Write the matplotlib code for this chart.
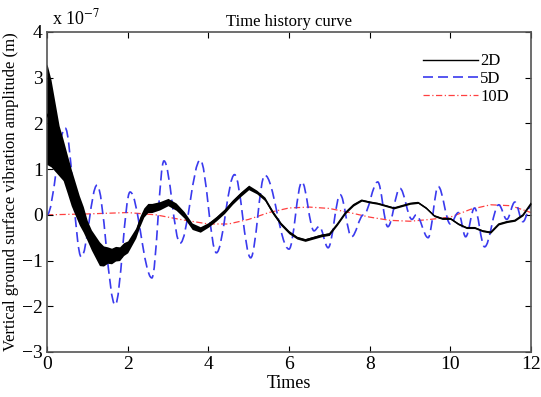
import numpy as np
import matplotlib
matplotlib.use('Agg')
import matplotlib.pyplot as plt
from matplotlib.path import Path
from matplotlib.patches import PathPatch

# values in units of 1e-7 m
# 2D: centre line of the curve and half width of the fast jitter around it
t2 = [0.0, 0.1, 0.2, 0.3, 0.4, 0.5, 0.6, 0.7, 0.8, 0.9, 1.0, 1.1, 1.2, 1.3, 1.4,
      1.5, 1.6, 1.7, 1.8, 1.9, 2.0, 2.1, 2.2, 2.3, 2.4, 2.5, 2.6, 2.8, 3.0, 3.2,
      3.4, 3.6, 3.8, 4.0, 4.2, 4.4, 4.6, 4.8, 5.0, 5.2, 5.4, 5.6, 5.8, 6.0, 6.2,
      6.4, 6.6, 6.8, 7.0, 7.2, 7.4, 7.6, 7.8, 8.0, 8.2, 8.4, 8.6, 8.8, 9.0, 9.2,
      9.4, 9.6, 9.8, 10.0, 10.2, 10.4, 10.6, 10.8, 11.0, 11.2, 11.4, 11.6, 11.8, 12.0]
y2 = [2.2, 2.0, 1.7, 1.4, 1.2, 0.9, 0.6, 0.35, 0.1, -0.1, -0.35, -0.55, -0.7, -0.85, -0.9,
      -0.88, -0.9, -0.85, -0.85, -0.75, -0.7, -0.55, -0.4, -0.15, 0.05, 0.15, 0.15, 0.2, 0.28, 0.18,
      0.0, -0.25, -0.32, -0.22, -0.08, 0.08, 0.28, 0.45, 0.6, 0.5, 0.35, 0.05, -0.2, -0.38, -0.5,
      -0.55, -0.5, -0.45, -0.42, -0.2, 0.05, 0.22, 0.32, 0.28, 0.25, 0.2, 0.15, 0.2, 0.25, 0.27,
      0.15, -0.02, -0.08, -0.08, -0.2, -0.28, -0.28, -0.35, -0.38, -0.2, -0.15, -0.12, 0.0, 0.25]
jit2 = [1.1, 0.95, 0.75, 0.55, 0.45, 0.42, 0.4, 0.36, 0.32, 0.28, 0.22, 0.22, 0.24, 0.26, 0.22,
        0.18, 0.17, 0.16, 0.15, 0.14, 0.13, 0.12, 0.11, 0.11, 0.1, 0.1, 0.1, 0.09, 0.08, 0.08,
        0.07, 0.07, 0.06, 0.05, 0.05, 0.05, 0.05, 0.05, 0.05, 0.04, 0.04, 0.04, 0.035, 0.035, 0.03,
        0.03, 0.03, 0.03, 0.03, 0.025, 0.025, 0.025, 0.02, 0.02, 0.02, 0.02, 0.02, 0.02, 0.02, 0.02,
        0.02, 0.02, 0.02, 0.02, 0.02, 0.02, 0.02, 0.02, 0.02, 0.02, 0.02, 0.02, 0.02, 0.02]

# 5D: peaks and troughs of the dashed curve
t5 = [0.0, 0.45, 0.85, 1.24, 1.69, 2.06, 2.6, 2.9, 3.3, 3.8, 4.2, 4.65, 5.05, 5.4,
      6.0, 6.32, 6.62, 6.75, 6.97, 7.27, 7.55, 7.85, 8.2, 8.45, 8.75, 9.05, 9.15,
      9.45, 9.7, 10.0, 10.2, 10.38, 10.6, 10.85, 11.2, 11.4, 11.6, 11.8, 12.0]
y5 = [0.0, 1.9, -0.92, 0.65, -1.97, 0.5, -1.38, 1.18, -0.62, 1.2, -0.83, 0.88, -0.94, 0.87,
      -0.75, 0.72, -0.35, -0.25, -0.72, 0.44, -0.48, 0.0, 0.72, -0.26, 0.58, -0.1, 0.0,
      -0.5, 0.62, -0.2, 0.05, -0.48, 0.15, -0.7, 0.22, -0.1, 0.28, -0.15, 0.2]

# 10D
t10 = [0, 1, 2, 2.7, 3.3, 4.0, 4.5, 5.0, 5.5, 6.0, 6.5, 7.0, 7.5, 8.0, 8.5, 9.0,
       9.5, 10.0, 10.5, 11.0, 11.5, 12.0]
y10 = [0.0, 0.02, 0.05, 0.0, -0.1, -0.2, -0.2, -0.1, 0.05, 0.15, 0.17, 0.14, 0.05,
       -0.05, -0.12, -0.14, -0.1, -0.05, 0.12, 0.22, 0.2, 0.05]

labels = ['2D', '5D', '10D']

plt.rcParams['font.family'] = ['Liberation Serif', 'DejaVu Serif']
plt.rcParams['mathtext.fontset'] = 'stix'

fig = plt.figure(figsize=(5.41, 3.97), dpi=100)
ax = fig.add_axes([0.0869, 0.1134, 0.8946, 0.806])

# 2D with its jitter band
t2a = np.array(t2)
y2a = np.array(y2)
j2a = np.array(jit2)
ax.fill_between(t2a, y2a - j2a, y2a + j2a, color='black', lw=0, zorder=3)
ax.plot(t2a, y2a, color='black', lw=1.0, zorder=3)

# 5D: smooth curve through the extremes (cubic bezier, flat tangents)
verts = [(t5[0], y5[0])]
codes = [Path.MOVETO]
for i in range(len(t5) - 1):
    d = t5[i + 1] - t5[i]
    verts += [(t5[i] + 0.363 * d, y5[i]), (t5[i + 1] - 0.363 * d, y5[i + 1]),
              (t5[i + 1], y5[i + 1])]
    codes += [Path.CURVE4] * 3
ax.add_patch(PathPatch(Path(verts, codes), facecolor='none', edgecolor='#3a3aee',
                       lw=1.2, linestyle=(0, (6, 3)), zorder=2))

ax.plot(t10, y10, color='#ff4040', lw=0.9, linestyle=(0, (5, 2, 1, 2)), zorder=1)

# legend proxies
h1, = ax.plot([], [], color='black', lw=1.0)
h2, = ax.plot([], [], color='#3a3aee', lw=1.2, linestyle=(0, (6, 3)))
h3, = ax.plot([], [], color='#ff4040', lw=0.9, linestyle=(0, (5, 2, 1, 2)))
ax.legend([h1, h2, h3], labels, loc='upper right', frameon=False, fontsize=12,
          handlelength=3.3, handletextpad=0.1, labelspacing=0.1,
          bbox_to_anchor=(0.985, 0.98))

ax.set_xlim(0, 12)
ax.set_ylim(-3, 4)
ax.set_xticks(range(0, 13, 2))
ax.set_yticks(range(-3, 5))
ax.tick_params(direction='in', top=True, right=True, labelsize=14, length=4, pad=3)
for s in ax.spines.values():
    s.set_color('#555555')
    s.set_linewidth(1.2)

ax.set_title('Time history curve', fontsize=12, pad=4)
ax.set_xlabel('Times', fontsize=13, labelpad=1)
ax.set_ylabel('Vertical ground surface vibration amplitude (m)', fontsize=12, labelpad=2)
ax.text(0.01, 1.01, 'x 10$^{-7}$', transform=ax.transAxes, fontsize=13,
        ha='left', va='bottom')

fig.savefig('out.png', dpi=100)
